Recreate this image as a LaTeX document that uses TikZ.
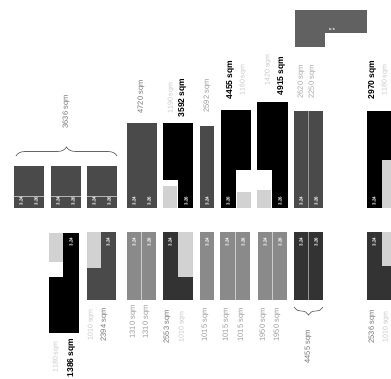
\documentclass[tikz,border=0pt]{standalone}
\usepackage{fontspec}
\setmainfont{Liberation Sans}
\usetikzlibrary{decorations.pathreplacing}
\definecolor{dk}{HTML}{4A4A4A}
\definecolor{dkk}{HTML}{333333}
\definecolor{md}{HTML}{8A8A8A}
\definecolor{lt}{HTML}{D2D2D2}
\tikzset{
  lbl/.style={rotate=90,font=\fontsize{7.5}{8}\selectfont,text=black!55,inner sep=0pt},
  blbl/.style={rotate=90,font=\fontsize{8.5}{9}\selectfont\bfseries,text=black,inner sep=0pt},
  flbl/.style={rotate=90,font=\fontsize{7}{8}\selectfont,text=black!22,inner sep=0pt},
  tiny/.style={rotate=90,font=\fontsize{4.5}{5}\selectfont\bfseries,text=white,inner sep=0pt},
  brc/.style={decorate,decoration={brace,amplitude=9pt},draw=black!60,line width=0.7pt}
}
\begin{document}
\begin{tikzpicture}[x=1pt,y=-1pt]
\useasboundingbox (0,0) rectangle (391,379);
% ---------- top row ----------
\fill[dk] (14,166) rectangle (44,208);
\fill[dk] (51,166) rectangle (81,208);
\fill[dk] (87,166) rectangle (117,208);
\foreach \x in {14,51,87}{
  \draw[white!70!black,line width=0.4pt] (\x,196) -- (\x+30,196);
  \node[tiny] at (\x+7,201) {3.24};
  \node[tiny] at (\x+22,201) {3.26};
}
\coordinate (bl) at (16,156);
\coordinate (br) at (117,156);
\draw[brc] (bl) -- (br);
\node[lbl] (t1) at (66,112) {3636 sqm};

\fill[dk] (127,123) rectangle (157,208);
\node[tiny] at (134,201) {3.24};
\node[tiny] at (149,201) {3.26};
\node[lbl] (t2) at (141,97) {4720 sqm};

\fill[black] (163,123) rectangle (193,180);
\fill[black] (178,180) rectangle (193,208);
\fill[lt] (163,186) rectangle (177,208);
\node[tiny] at (186,201) {3.26};
\node[flbl] at (171,98) {1190 sqm};
\node[blbl] (t3) at (182,98) {3592 sqm};

\fill[dk] (200,126) rectangle (214,208);
\node[tiny] at (207,201) {3.24};
\node[lbl,text=black!40] (t4) at (207,96) {2592 sqm};

\fill[black] (221,110) rectangle (251,170);
\fill[black] (221,170) rectangle (236,208);
\fill[lt] (237,192) rectangle (251,208);
\node[tiny] at (228,201) {3.26};
\node[blbl] (t5) at (230,80) {4455 sqm};
\node[flbl] at (243,80) {1160 sqm};

\fill[black] (257,102) rectangle (288,170);
\fill[black] (272,170) rectangle (288,208);
\fill[lt] (257,190) rectangle (271,208);
\node[tiny] at (280,201) {3.26};
\node[flbl] at (268,70) {1420 sqm};
\node[blbl] (t6) at (281,76) {4915 sqm};

\fill[dk] (294,111) rectangle (323,208);
\draw[white!60!black,line width=0.5pt] (308.5,111) -- (308.5,208);
\node[tiny] at (301,201) {3.24};
\node[tiny] at (316,201) {3.26};
\node[lbl,text=black!35] (t7) at (301,82) {2620 sqm};
\node[lbl,text=black!35] (t8) at (312,82) {2250 sqm};

\fill[black] (367,111) rectangle (391,160);
\fill[black] (367,160) rectangle (382,208);
\fill[lt] (382,160) rectangle (391,208);
\node[tiny] at (374,201) {3.24};
\node[blbl] (t9) at (372,80) {2970 sqm};
\node[flbl] at (385,80) {1180 sqm};

% legend box
\fill[black!62] (295,10) rectangle (367,33);
\fill[black!62] (295,33) rectangle (325,47);
\node[font=\fontsize{4}{5}\selectfont\bfseries,text=white,inner sep=0pt] (lg) at (332,29) {u s};

% ---------- bottom row ----------
\fill[lt] (49,233) rectangle (63,262);
\fill[black] (63,233) rectangle (79,333);
\fill[black] (49,277) rectangle (79,333);
\node[tiny] at (71,242) {3.24};
\node[flbl] at (56,357) {1180 sqm};
\node[blbl] (b1) at (71,358) {1386 sqm};

\fill[lt] (87,232) rectangle (101,268);
\fill[dk] (101,232) rectangle (116,300);
\fill[dk] (87,268) rectangle (116,300);
\node[tiny] at (108,242) {3.24};
\node[flbl] at (91,325) {1010 sqm};
\node[lbl] (b2) at (104,325) {2394 sqm};

\fill[md] (127,232) rectangle (156,300);
\draw[white!80!black,line width=0.5pt] (141.5,232) -- (141.5,300);
\node[tiny] at (134,242) {3.24};
\node[tiny] at (149,242) {3.26};
\node[lbl,text=black!40] (b3) at (133,322) {1310 sqm};
\node[lbl,text=black!40] (b4) at (146,322) {1310 sqm};

\fill[dkk] (163,232) rectangle (178,300);
\fill[lt] (178,232) rectangle (193,277);
\fill[dkk] (163,277) rectangle (193,300);
\node[tiny] at (170,242) {3.24};
\node[lbl] (b5) at (167,327) {2553 sqm};
\node[flbl] at (182,327) {1010 sqm};

\fill[md] (200,232) rectangle (214,300);
\node[tiny] at (207,242) {3.24};
\node[lbl,text=black!40] (b6) at (205,325) {1015 sqm};

\fill[md] (220,232) rectangle (250,300);
\draw[white!80!black,line width=0.5pt] (235,232) -- (235,300);
\node[tiny] at (227,242) {3.24};
\node[tiny] at (243,242) {3.26};
\node[lbl,text=black!40] (b7) at (226,325) {1015 sqm};
\node[lbl,text=black!40] (b8) at (241,325) {1015 sqm};

\fill[md] (258,232) rectangle (287,300);
\draw[white!80!black,line width=0.5pt] (272.5,232) -- (272.5,300);
\node[tiny] at (265,242) {3.24};
\node[tiny] at (280,242) {3.26};
\node[lbl,text=black!40] (b9) at (263,325) {1950 sqm};
\node[lbl,text=black!40] (b10) at (277,325) {1950 sqm};

\fill[dkk] (294,232) rectangle (323,300);
\draw[white!60!black,line width=0.5pt] (308.5,232) -- (308.5,300);
\node[tiny] at (301,242) {3.24};
\node[tiny] at (316,242) {3.26};
\coordinate (cl) at (294,307);
\coordinate (cr) at (323,307);
\draw[brc,decoration={brace,amplitude=8pt}] (cr) -- (cl);
\node[lbl] (b11) at (308,347) {4455 sqm};

\fill[dkk] (367,232) rectangle (382,300);
\fill[lt] (382,232) rectangle (391,266);
\fill[dkk] (367,266) rectangle (391,300);
\node[tiny] at (374,242) {3.24};
\node[lbl] (b12) at (372,327) {2536 sqm};
\node[flbl] at (386,327) {1010 sqm};
\end{tikzpicture}
\end{document}
